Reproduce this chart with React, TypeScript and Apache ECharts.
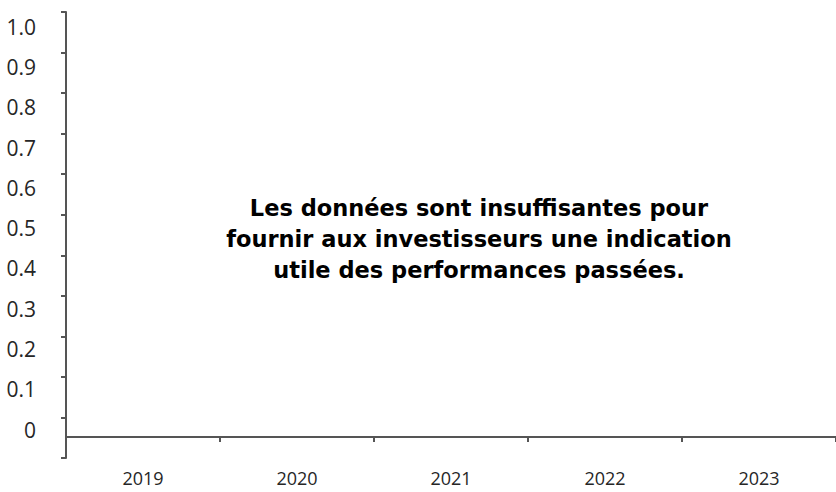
import React, { useEffect, useRef } from "react";
import * as echarts from "echarts";

const yCategories = ["a", "b", "c", "d", "e", "f", "g", "h", "i", "j", "k"];
const yMin = 0;
const yMax = 1;
const yStep = 0.1;
const years = ["2019", "2020", "2021", "2022", "2023"];
const emptyValues: (number | null)[] = [null, null, null, null, null];
const messageLines = [
  "Les données sont insuffisantes pour",
  "fournir aux investisseurs une indication",
  "utile des performances passées.",
];

export default function App() {
  const ref = useRef<HTMLDivElement>(null);
  useEffect(() => {
    if (!ref.current) return;
    const chart = echarts.init(ref.current, undefined, { renderer: "svg" });
    const axisColor = "#555555";
    const textColor = "#262626";
    const labelFont = "'Open Sans', 'Noto Sans', sans-serif";
    chart.setOption({
      animation: false,
      grid: [
        { left: 66, right: -7, top: 12, bottom: 34 },
        { left: 66, right: -7, top: 12, bottom: 55 },
        { left: 66, right: -7, top: 26.7, bottom: 62.5 },
      ],
      xAxis: [
        { gridIndex: 0, type: "category", data: years, show: false },
        {
          gridIndex: 1,
          type: "category",
          data: years,
          boundaryGap: true,
          axisLine: { show: true, lineStyle: { color: axisColor, width: 2 } },
          axisTick: { show: true, length: 5, lineStyle: { color: axisColor, width: 2 } },
          axisLabel: {
            color: textColor,
            fontFamily: labelFont,
            fontSize: 18,
            margin: 32,
          },
        },
        { gridIndex: 2, type: "category", data: years, show: false },
      ],
      yAxis: [
        {
          gridIndex: 0,
          type: "category",
          data: yCategories,
          boundaryGap: true,
          axisLine: { show: true, lineStyle: { color: axisColor, width: 2 } },
          axisTick: { show: true, length: 5, lineStyle: { color: axisColor, width: 2 } },
          splitLine: { show: false },
          axisLabel: { show: false },
        },
        { gridIndex: 1, type: "value", show: false, min: yMin, max: yMax },
        {
          gridIndex: 2,
          type: "value",
          min: yMin,
          max: yMax,
          interval: yStep,
          axisLine: { show: false },
          axisTick: { show: false },
          splitLine: { show: false },
          axisLabel: {
            color: textColor,
            fontFamily: labelFont,
            fontSize: 21,
            margin: 30,
            formatter: (v: number) => (v === 0 ? "0" : v.toFixed(1)),
          },
        },
      ],
      series: [
        {
          type: "bar",
          xAxisIndex: 1,
          yAxisIndex: 1,
          data: emptyValues,
        },
      ],
      graphic: [
        {
          type: "text",
          x: 479,
          y: 239,
          style: {
            text: messageLines.join("\n"),
            textAlign: "center",
            textVerticalAlign: "middle",
            font: "bold 22.5px 'DejaVu Sans', sans-serif",
            lineHeight: 31,
            fill: "#000000",
          },
        },
      ],
    });
    return () => chart.dispose();
  }, []);
  return <div ref={ref} style={{ width: 836, height: 492, position: "absolute", left: 0, top: 0 }} />;
}
